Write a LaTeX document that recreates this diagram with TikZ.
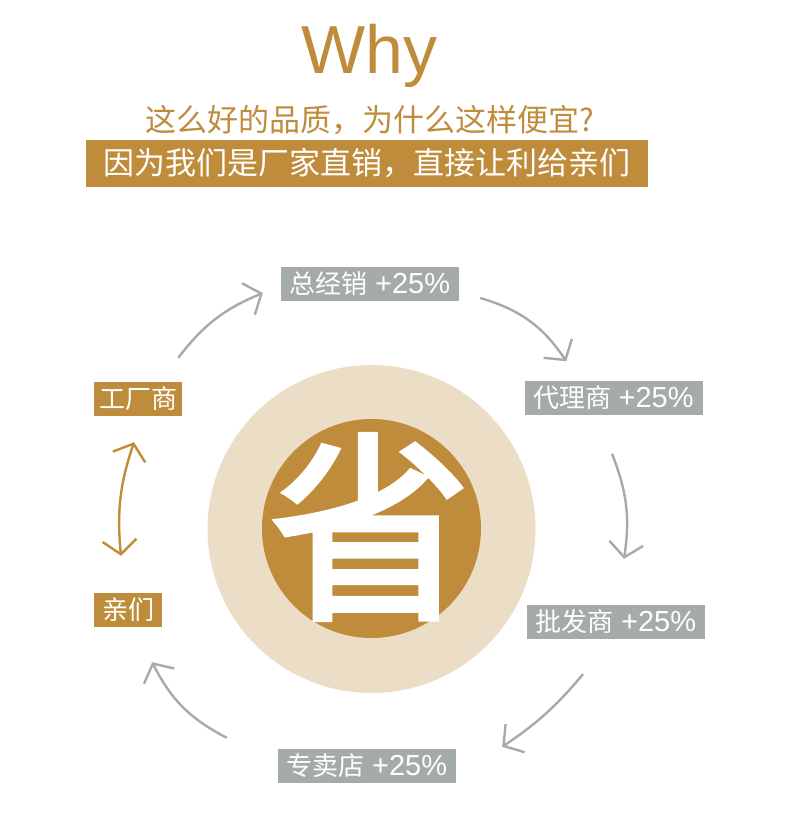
\documentclass[tikz,border=0pt]{standalone}
\usepackage{fontspec}
\setmainfont{Liberation Sans}
\newfontfamily\cjk{Noto Sans CJK SC}
\newfontfamily\cjkheavy[FakeBold=2.5]{Noto Sans CJK SC}
\usetikzlibrary{arrows.meta, calc}
\definecolor{mygold}{RGB}{190,140,59}
\definecolor{mybeige}{RGB}{235,221,198}
\definecolor{mygray}{RGB}{165,170,171}
\newcommand{\plusrate}{{\fontsize{29}{29}\selectfont +25\%}}
\tikzset{
  graytag/.style={rectangle, fill=mygray, text=white, minimum width=178pt,
    minimum height=34pt, inner sep=0pt, font=\fontsize{26}{26}\selectfont},
  goldtag/.style={rectangle, fill=mygold, text=white, minimum height=34pt,
    inner sep=0pt, font=\cjk\fontsize{26}{26}\selectfont},
  grayarrow/.style={-{Straight Barb[length=14pt,width=34pt]}, line width=2.4pt, color=mygray},
  goldarrow/.style={{Straight Barb[length=14pt,width=34pt]}-{Straight Barb[length=14pt,width=34pt]},
    line width=2.4pt, color=mygold}
}

\begin{document}
\begin{tikzpicture}[x=1pt, y=-1pt]
  \useasboundingbox (0,0) rectangle (790,838);

  % heading
  \node[text=mygold, font=\fontsize{68}{68}\selectfont, anchor=base] (why) at (369,73) {Why};
  \node[text=mygold, font=\cjk\fontsize{31}{31}\selectfont] (ask) at (370,120) {这么好的品质，为什么这样便宜?};
  \node[fill=mygold, text=white, minimum width=562pt, minimum height=47pt, inner sep=0pt,
    font=\cjk\fontsize{31}{31}\selectfont] (answer) at (367,163.5) {因为我们是厂家直销，直接让利给亲们};

  % centre
  \node[circle, fill=mybeige, minimum size=328pt, inner sep=0pt] (outer) at (371.5,529) {};
  \node[circle, fill=mygold, minimum size=219pt, inner sep=0pt] (inner) at (371.5,528.5) {};
  \node[text=white, font=\cjkheavy\fontsize{202}{202}\selectfont] (sheng) at (370,527) {省};

  % chain
  \node[graytag] (gen) at (370,284) {{\cjk 总经销} \plusrate};
  \node[graytag] (agent) at (613.5,397.5) {{\cjk 代理商} \plusrate};
  \node[graytag] (whole) at (616,622) {{\cjk 批发商} \plusrate};
  \node[graytag] (shop) at (367,766) {{\cjk 专卖店} \plusrate};
  \node[goldtag, minimum width=88pt] (fac) at (138,399) {工厂商};
  \node[goldtag, minimum width=68pt] (cust) at (128,610) {亲们};

  \draw[grayarrow] ([shift={(-4,-24)}]fac.north east) to[bend left=15] ([shift={(-18,9)}]gen.west);
  \draw[grayarrow] ([shift={(21,14)}]gen.east) to[bend left=20] ([shift={(42,-19)}]agent.north west);
  \draw[grayarrow] ([shift={(-1.5,39)}]agent.south) to[bend left=15] ([shift={(8,-46)}]whole.north);
  \draw[grayarrow] ([shift={(-33,35)}]whole.south) to[bend left=8] ([shift={(46,-2)}]shop.north east);
  \draw[grayarrow] ([shift={(-51,-11)}]shop.north west) to[bend left=18] ([shift={(-10,35)}]cust.south east);
  \draw[goldarrow] ([shift={(-7,-37)}]cust.north) to[bend left=12] ([shift={(-4,26)}]fac.south);

\end{tikzpicture}
\end{document}
